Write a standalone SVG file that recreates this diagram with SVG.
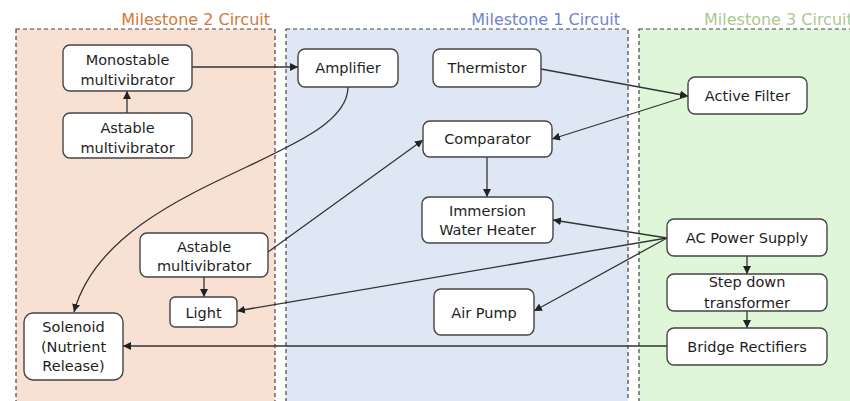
<svg xmlns="http://www.w3.org/2000/svg" width="850" height="401" viewBox="0 0 850 401">
<defs>
<marker id="ah" viewBox="0 0 10 10" refX="10" refY="5" markerWidth="8" markerHeight="8" markerUnits="userSpaceOnUse" orient="auto">
<path d="M0,0 L10,5 L0,10 z" fill="#222"/>
</marker>
<style>
.panel{stroke:#444;stroke-width:1.2;stroke-dasharray:4 3}
.title{font-family:"DejaVu Sans",sans-serif;font-size:16px}
.node rect{fill:#fff;stroke:#444;stroke-width:1.4}
.node text{font-family:"DejaVu Sans",sans-serif;font-size:14.5px;fill:#1e1e1e;text-anchor:middle}
.conn path{fill:none;stroke:#333;stroke-width:1.3;marker-end:url(#ah)}
</style>
</defs>
<rect width="850" height="401" fill="#fff"/>
<g id="panel-m2">
<rect class="panel" x="16" y="29" width="259" height="380" fill="#F8E1D2"/>
<text class="title" x="270" y="25" text-anchor="end" fill="#D0793A">Milestone 2 Circuit</text>
</g>
<g id="panel-m1">
<rect class="panel" x="286" y="29" width="342" height="380" fill="#DFE7F4"/>
<text class="title" x="620" y="25" text-anchor="end" fill="#6D85CF">Milestone 1 Circuit</text>
</g>
<g id="panel-m3">
<rect class="panel" x="639" y="29" width="230" height="380" fill="#DFF7D8"/>
<text class="title" x="704" y="25" fill="#A9C98F">Milestone 3 Circuit</text>
</g>
<g class="conn" id="connectors">
<path d="M127,113 L127,91"/>
<path d="M192,67 L298,67"/>
<path d="M348,87 C348,160 110,180 74,312"/>
<path d="M541,69 L688,96"/>
<path d="M688,96 L552,139"/>
<path d="M487,157 L487,197"/>
<path d="M268,252 L423,140"/>
<path d="M204,277 L204,297"/>
<path d="M667,238 L553,220"/>
<path d="M667,238 L237,311"/>
<path d="M667,238 L534,311"/>
<path d="M747,256 L747,274"/>
<path d="M747,311 L747,328"/>
<path d="M667,346 L123,346"/>
</g>
<g class="node" id="monostable"><rect x="63" y="45" width="129" height="46" rx="7"/><text x="127.5" y="65">Monostable</text><text x="127.5" y="84.5">multivibrator</text></g>
<g class="node" id="astable-top"><rect x="63" y="113" width="129" height="45" rx="7"/><text x="127.5" y="133">Astable</text><text x="127.5" y="152.5">multivibrator</text></g>
<g class="node" id="amplifier"><rect x="298" y="49" width="100" height="38" rx="7"/><text x="348" y="73">Amplifier</text></g>
<g class="node" id="thermistor"><rect x="433" y="49" width="108" height="38" rx="7"/><text x="487" y="73">Thermistor</text></g>
<g class="node" id="comparator"><rect x="423" y="121" width="129" height="36" rx="7"/><text x="487.5" y="144">Comparator</text></g>
<g class="node" id="active-filter"><rect x="688" y="77" width="119" height="37" rx="7"/><text x="747.5" y="101">Active Filter</text></g>
<g class="node" id="heater"><rect x="422" y="197" width="131" height="46" rx="7"/><text x="487.5" y="216">Immersion</text><text x="487.5" y="235">Water Heater</text></g>
<g class="node" id="air-pump"><rect x="434" y="289" width="100" height="46" rx="7"/><text x="484" y="318">Air Pump</text></g>
<g class="node" id="ac-power"><rect x="667" y="219" width="160" height="37" rx="7"/><text x="747" y="243">AC Power Supply</text></g>
<g class="node" id="step-down"><rect x="667" y="274" width="160" height="37" rx="7"/><text x="747" y="287">Step down</text><text x="747" y="307.5">transformer</text></g>
<g class="node" id="bridge"><rect x="667" y="328" width="160" height="37" rx="7"/><text x="747" y="352">Bridge Rectifiers</text></g>
<g class="node" id="astable-bottom"><rect x="140" y="233" width="128" height="44" rx="7"/><text x="204" y="252">Astable</text><text x="204" y="271">multivibrator</text></g>
<g class="node" id="light"><rect x="170" y="297" width="67" height="30" rx="5"/><text x="203.5" y="318">Light</text></g>
<g class="node" id="solenoid"><rect x="24" y="313" width="99" height="67" rx="9"/><text x="73.5" y="332">Solenoid</text><text x="73.5" y="352">(Nutrient</text><text x="73.5" y="371">Release)</text></g>
</svg>
